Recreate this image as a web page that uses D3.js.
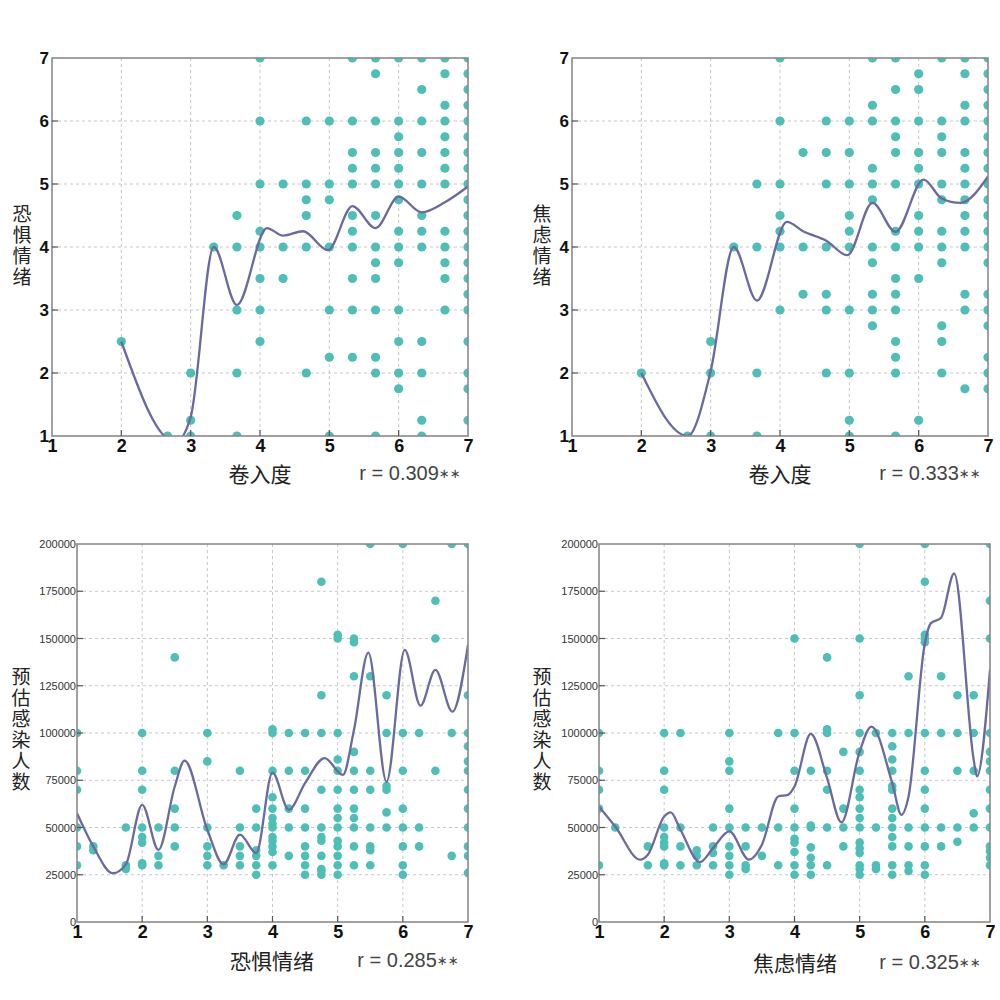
<!DOCTYPE html>
<html><head><meta charset="utf-8">
<script src="https://cdn.jsdelivr.net/npm/d3@7"></script>
<style>body{margin:0;background:#fff}</style>
</head><body>
<svg id="c" width="1000" height="1000"></svg>
<script>
// ---------- data ----------
const xTicks = [1, 2, 3, 4, 5, 6, 7];
const yTicksTop = [1, 2, 3, 4, 5, 6, 7];
const yTicksBottom = [0, 25000, 50000, 75000, 100000, 125000, 150000, 175000, 200000];

const xTitles = ["卷入度", "卷入度", "恐惧情绪", "焦虑情绪"];
const yTitles = ["恐惧情绪", "焦虑情绪", "预估感染人数", "预估感染人数"];
const rLabels = ["r = 0.309", "r = 0.333", "r = 0.285", "r = 0.325"];

// panel 1: 卷入度 vs 恐惧情绪
const p1Levels = [2, 2.667, 3, 3.333, 3.667, 4, 4.333, 4.667, 5, 5.333, 5.667, 6, 6.333, 6.667, 7];
const p1Values = [
  [2.5], [1], [2, 1.25, 1], [4], [4.5, 4, 3, 2, 1],
  [7, 6, 5, 4.25, 4, 3.5, 3, 2.5], [5, 4, 3.5], [6, 5, 4.75, 4.5, 4, 2],
  [6, 5, 4.75, 4, 3, 2.25, 1],
  [7, 6, 5.5, 5.25, 5, 4.5, 4.25, 4, 3.5, 3, 2.25],
  [7, 6.75, 6, 5.5, 5.25, 5, 4.5, 4, 3.75, 3.5, 3, 2.25, 2, 1],
  [7, 6, 5.75, 5.5, 5.25, 5, 4.75, 4.25, 4, 3.75, 3, 2.5, 2, 1.75],
  [7, 6.5, 6, 5.5, 5, 4.5, 4.25, 4, 2.5, 2, 1.25, 1],
  [7, 6.75, 6.25, 6, 5.75, 5.5, 5.25, 5, 4.25, 4, 3.75, 3.5, 3],
  [7, 6.75, 6.5, 6.25, 6, 5.75, 5.5, 5.25, 5, 4.75, 4.5, 4.25, 4, 3.75, 3.5, 3.25, 3, 2.5, 2, 1.75, 1.25]
];
const p1CurveX = [2, 2.78, 3, 3.333, 3.667, 4.1, 4.333, 4.62, 4.98, 5.333, 5.667, 6, 6.333, 6.667, 7];
const p1CurveY = [2.5, 0.9, 1.3, 4.0, 3.08, 4.3, 4.18, 4.25, 3.95, 4.65, 4.3, 4.8, 4.55, 4.71, 4.96];

// panel 2: 卷入度 vs 焦虑情绪
const p2Levels = [2, 2.667, 3, 3.333, 3.667, 4, 4.333, 4.667, 5, 5.333, 5.667, 6, 6.333, 6.667, 7];
const p2Values = [
  [2], [1], [2.5, 2, 1], [4], [5, 4, 2, 1],
  [7, 6, 5, 4.5, 4.25, 4, 3], [5.5, 4, 3.25], [6, 5.5, 5, 4, 3.25, 3, 2],
  [6, 5.5, 5, 4.5, 4.25, 4, 3, 2, 1.25, 1],
  [7, 6.25, 6, 5.25, 5, 4.75, 4, 3.75, 3.25, 3, 2.75],
  [7, 6.5, 6, 5.75, 5.5, 5, 4.25, 4, 3.5, 3.25, 3, 2.5, 2.25, 2, 1],
  [6.75, 6.5, 6, 5.5, 5.25, 5, 4.5, 4.25, 4, 3.5, 1.25],
  [7, 6, 5.75, 5.5, 5, 4.75, 4.25, 4, 3.75, 2.75, 2.5, 2],
  [7, 6.75, 6.25, 6, 5.5, 5.25, 5, 4.75, 4.5, 4.25, 4, 3.25, 3, 1.75],
  [7, 6.75, 6.5, 6.25, 6, 5.75, 5.5, 5.25, 5, 4.75, 4.5, 4.25, 4, 3.75, 3.25, 3, 2.75, 2.25, 2, 1.75]
];
const p2CurveX = [2, 2.667, 3, 3.333, 3.667, 4.1, 4.333, 4.667, 4.97, 5.333, 5.667, 6.07, 6.333, 6.6, 7];
const p2CurveY = [2, 1.0, 2.03, 4.0, 3.15, 4.4, 4.25, 4.1, 3.87, 4.7, 4.24, 5.07, 4.77, 4.7, 5.12];

// panel 3: 恐惧情绪 vs 预估感染人数
const p3Levels = [1, 1.25, 1.75, 2, 2.25, 2.5, 3, 3.25, 3.5, 3.75, 4, 4.25, 4.5, 4.75, 5, 5.25, 5.5, 5.75, 6, 6.25, 6.5, 6.75, 7];
const p3Values = [
  [100000, 80000, 70000, 50000, 40000, 30000],
  [40000, 38000],
  [50000, 30000, 28000],
  [100000, 80000, 70000, 50000, 45000, 42000, 31000, 30000],
  [50000, 35000, 30000],
  [140000, 80000, 60000, 50000, 40000],
  [100000, 85000, 50000, 40000, 35000, 30000],
  [30000],
  [80000, 50000, 40000, 35000, 30000],
  [60000, 50000, 38000, 35000, 30000, 25000],
  [102000, 100000, 80000, 66000, 60000, 55000, 52000, 50000, 45000, 43000, 40000, 37000, 30000],
  [100000, 80000, 60000, 50000, 35000],
  [100000, 80000, 60000, 50000, 40000, 35000, 30000, 25000],
  [180000, 120000, 100000, 70000, 50000, 45000, 43000, 35000, 28000, 27000, 25000],
  [152000, 150000, 100000, 86000, 80000, 70000, 60000, 55000, 50000, 43000, 40000, 35000, 30000, 25000],
  [150000, 148000, 130000, 90000, 80000, 70000, 60000, 55000, 50000, 40000, 30000],
  [200000, 130000, 80000, 70000, 50000, 40000, 38000, 30000],
  [120000, 100000, 72000, 70000, 58000, 50000],
  [200000, 100000, 80000, 60000, 50000, 40000, 30000, 25000],
  [100000, 50000, 40000],
  [170000, 150000, 80000],
  [200000, 100000, 35000],
  [200000, 120000, 100000, 93000, 85000, 80000, 70000, 60000, 50000, 40000, 35000, 26000]
];
const p3CurveX = [1, 1.25, 1.55, 1.75, 2, 2.25, 2.5, 2.65, 3, 3.25, 3.5, 3.75, 4, 4.25, 4.5, 4.8, 5.08, 5.25, 5.47, 5.75, 6.03, 6.27, 6.5, 6.76, 7];
const p3CurveY = [57600, 40000, 25800, 30500, 62000, 38200, 71700, 85400, 48800, 30500, 46200, 36500, 79000, 59400, 73500, 86700, 77800, 101600, 142500, 74300, 144000, 114500, 133400, 111300, 146600];

// panel 4: 焦虑情绪 vs 预估感染人数
const p4Levels = [1, 1.25, 1.75, 2, 2.25, 2.5, 2.75, 3, 3.25, 3.5, 3.75, 4, 4.25, 4.5, 4.75, 5, 5.25, 5.5, 5.75, 6, 6.25, 6.5, 6.75, 7];
const p4Values = [
  [100000, 80000, 70000, 60000, 30000],
  [50000],
  [40000, 30000],
  [100000, 80000, 70000, 50000, 45000, 42000, 40000, 31000, 30000],
  [100000, 50000, 40000, 30000],
  [38000, 35000, 30000],
  [50000, 40000, 36500, 30000],
  [100000, 85000, 80000, 60000, 50000, 40000, 35000, 30000, 25000],
  [50000, 40000, 30000, 28000],
  [50000, 35000],
  [100000, 50000, 30000],
  [150000, 100000, 80000, 60000, 50000, 44000, 42000, 37000, 30000, 25000],
  [80000, 51000, 50000, 39500, 34000, 30000, 25000],
  [140000, 102000, 100000, 80000, 70000, 50000, 30000],
  [90000, 60000, 50000, 40000],
  [200000, 150000, 120000, 100000, 90000, 80000, 70000, 66000, 60000, 55000, 50000, 42000, 39000, 36500, 30000, 28000, 25000],
  [100000, 50000, 30000, 28000],
  [100000, 93000, 86000, 80000, 72000, 70000, 60000, 55000, 50000, 45000, 40000, 30000, 25000],
  [130000, 100000, 50000, 40000, 30000, 27000],
  [200000, 180000, 152000, 150000, 148000, 100000, 80000, 70000, 60000, 50000, 40000, 30000, 25000],
  [130000, 100000, 50000, 40000],
  [120000, 100000, 80000, 50000, 42500],
  [120000, 100000, 80000, 57500, 50000],
  [200000, 170000, 150000, 100000, 90000, 85000, 80000, 70000, 60000, 50000, 40000, 37500, 34000, 30000]
];
const p4CurveX = [1, 1.25, 1.63, 1.75, 2, 2.1, 2.25, 2.55, 2.75, 3, 3.3, 3.5, 3.75, 3.9, 4, 4.25, 4.5, 4.72, 5, 5.18, 5.5, 5.64, 5.75, 6, 6.09, 6.25, 6.45, 6.75, 6.8, 7];
const p4CurveY = [61000, 50500, 33000, 35600, 55800, 58000, 48800, 31700, 39100, 47900, 33000, 40900, 66400, 67300, 71700, 99500, 76100, 52700, 90200, 103400, 73500, 56700, 66400, 147500, 158000, 161000, 184400, 85800, 77000, 133400];

// ---------- layout / style ----------
const LAT = "'Liberation Sans', Arial, Helvetica, sans-serif";
const CJK = "'Noto Sans CJK SC', 'Noto Sans', sans-serif";
const DOT = "#4dbfb6";
const LINE = "#6a69a0";

const panels = [
  {levels: p1Levels, values: p1Values, cx: p1CurveX, cy: p1CurveY, box: [52, 468, 58, 436], yDom: [1, 7], yTicks: yTicksTop, big: true,
   yTitleX: 22, yTitleY: 246, xTitleX: 260, rX: 410, titleY: 473},
  {levels: p2Levels, values: p2Values, cx: p2CurveX, cy: p2CurveY, box: [572, 988, 58, 436], yDom: [1, 7], yTicks: yTicksTop, big: true,
   yTitleX: 542, yTitleY: 246, xTitleX: 780, rX: 930, titleY: 473},
  {levels: p3Levels, values: p3Values, cx: p3CurveX, cy: p3CurveY, box: [77, 468, 544, 922], yDom: [0, 200000], yTicks: yTicksBottom, big: false,
   yTitleX: 21, yTitleY: 730, xTitleX: 272, rX: 408, titleY: 960},
  {levels: p4Levels, values: p4Values, cx: p4CurveX, cy: p4CurveY, box: [599, 990, 544, 922], yDom: [0, 200000], yTicks: yTicksBottom, big: false,
   yTitleX: 542, yTitleY: 730, xTitleX: 795, rX: 930, titleY: 962}
];

const svg = d3.select("#c");

panels.forEach((p, i) => {
  const [L, R, T, B] = p.box;
  const x = d3.scaleLinear().domain([1, 7]).range([L, R]);
  const y = d3.scaleLinear().domain(p.yDom).range([B, T]);
  const g = svg.append("g");

  // grid
  g.append("g").selectAll("line").data(xTicks.slice(1, -1)).join("line")
    .attr("x1", d => x(d)).attr("x2", d => x(d)).attr("y1", T).attr("y2", B)
    .attr("stroke", "#c8c8c8").attr("stroke-width", 1).attr("stroke-dasharray", "3,3");
  g.append("g").selectAll("line").data(p.yTicks.slice(1, -1)).join("line")
    .attr("x1", L).attr("x2", R).attr("y1", d => y(d)).attr("y2", d => y(d))
    .attr("stroke", "#c8c8c8").attr("stroke-width", 1).attr("stroke-dasharray", "3,3");

  // clip
  const cid = "clip" + i;
  svg.append("defs").append("clipPath").attr("id", cid)
    .append("rect").attr("x", L).attr("y", T).attr("width", R - L).attr("height", B - T);

  const pts = [];
  p.levels.forEach((lv, j) => p.values[j].forEach(v => pts.push([lv, v])));
  const plot = g.append("g").attr("clip-path", `url(#${cid})`);
  plot.selectAll("circle").data(pts).join("circle")
    .attr("cx", d => x(d[0])).attr("cy", d => y(d[1]))
    .attr("r", p.big ? 4.6 : 4.3).attr("fill", DOT);

  const curvePts = p.cx.map((v, k) => [v, p.cy[k]]);
  plot.append("path").datum(curvePts)
    .attr("d", d3.line().x(d => x(d[0])).y(d => y(d[1])).curve(d3.curveMonotoneX))
    .attr("fill", "none").attr("stroke", LINE).attr("stroke-width", 2.3);

  // frame
  g.append("rect").attr("x", L).attr("y", T).attr("width", R - L).attr("height", B - T)
    .attr("fill", "none").attr("stroke", "#8a8a8a").attr("stroke-width", 1.6);

  // x axis ticks & labels
  const xa = d3.axisBottom(x).tickValues(xTicks).tickSize(0).tickPadding(3).tickFormat(d3.format("d"));
  const xg = g.append("g").attr("transform", `translate(0,${B})`).call(xa);
  xg.select(".domain").remove();
  xg.selectAll("text").attr("font-family", LAT).attr("font-size", 18).attr("font-weight", "bold").attr("fill", "#111");
  g.append("g").selectAll("line").data(xTicks.slice(1, -1)).join("line")
    .attr("x1", d => x(d)).attr("x2", d => x(d)).attr("y1", B).attr("y2", B - 6)
    .attr("stroke", "#555").attr("stroke-width", 1.2);

  // y axis ticks & labels
  const ya = d3.axisLeft(y).tickValues(p.yTicks).tickSize(0).tickPadding(p.big ? 3 : 1).tickFormat(d3.format("d"));
  const yg = g.append("g").attr("transform", `translate(${L},0)`).call(ya);
  yg.select(".domain").remove();
  if (p.big) {
    yg.selectAll("text").attr("font-family", LAT).attr("font-size", 17).attr("font-weight", "bold").attr("fill", "#111");
  } else {
    yg.selectAll("text").attr("font-family", LAT).attr("font-size", 11).attr("fill", "#333");
  }
  g.append("g").selectAll("line").data(p.yTicks.slice(1, -1)).join("line")
    .attr("x1", L).attr("x2", L + 6).attr("y1", d => y(d)).attr("y2", d => y(d))
    .attr("stroke", "#555").attr("stroke-width", 1.2);

  // y title (vertical text, upright characters)
  g.append("text").attr("x", p.yTitleX).attr("y", p.yTitleY)
    .attr("text-anchor", "middle")
    .style("writing-mode", "vertical-rl").style("text-orientation", "upright")
    .style("letter-spacing", "2px")
    .attr("font-family", CJK).attr("font-size", 19).attr("fill", "#222").text(yTitles[i]);

  // x title
  g.append("text").attr("x", p.xTitleX).attr("y", p.titleY)
    .attr("text-anchor", "middle").attr("dominant-baseline", "central")
    .attr("font-family", CJK).attr("font-size", 21).attr("fill", "#222").text(xTitles[i]);

  // r label
  const rt = g.append("text").attr("x", p.rX).attr("y", p.titleY)
    .attr("text-anchor", "middle").attr("dominant-baseline", "central")
    .attr("font-family", LAT).attr("font-size", 20).attr("fill", "#444");
  rt.append("tspan").text(rLabels[i]);
  rt.append("tspan").attr("font-family", "'DejaVu Sans', sans-serif").attr("font-size", 13).text("∗∗");
});
</script>
</body></html>
